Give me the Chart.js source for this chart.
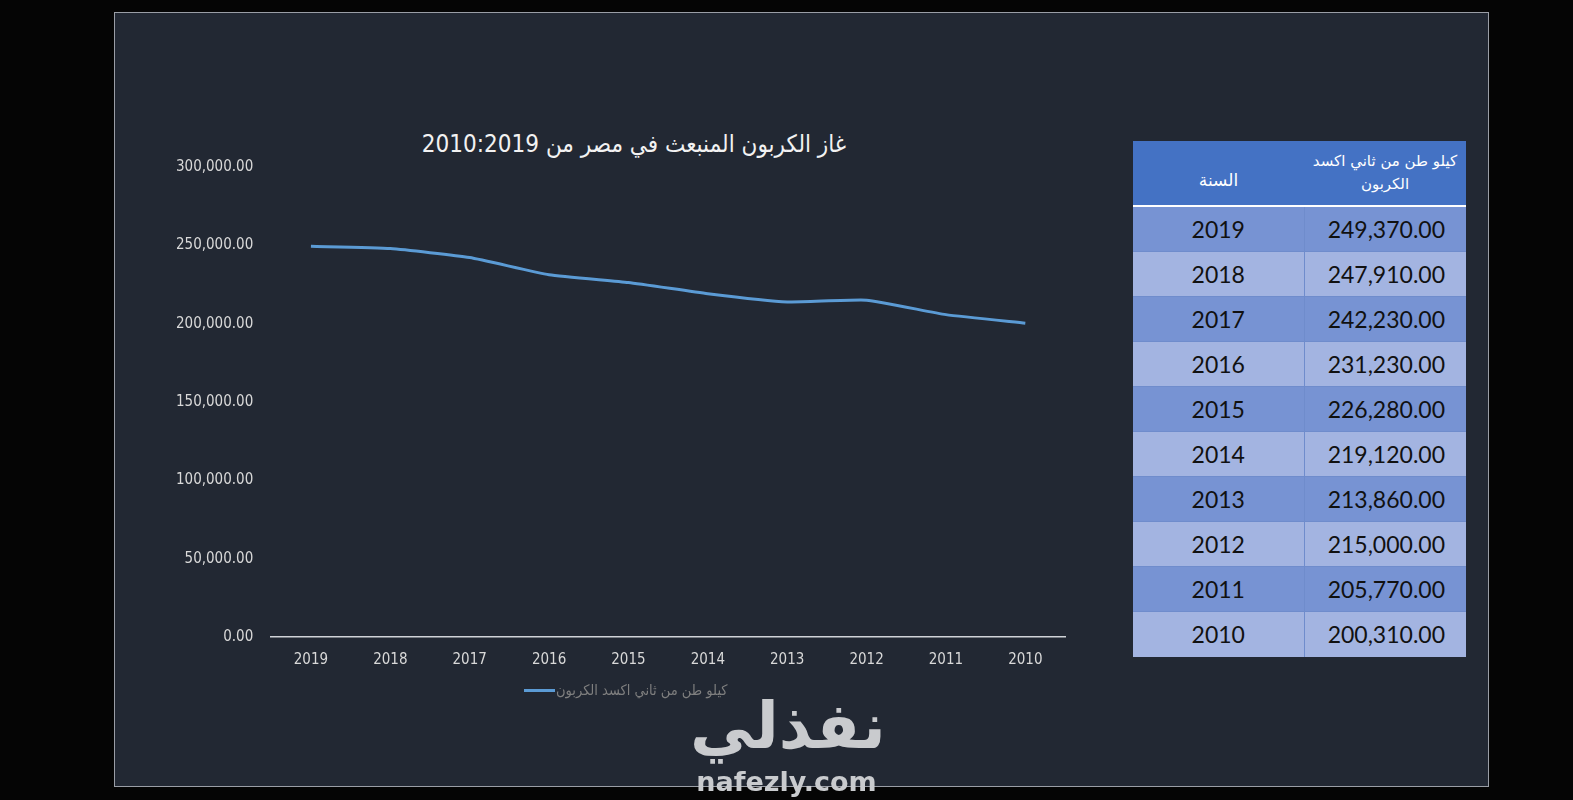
<!DOCTYPE html>
<html lang="ar">
<head>
<meta charset="utf-8">
<script src="https://cdn.jsdelivr.net/npm/chart.js@4.4.1/dist/chart.umd.min.js"></script>
<style>
  html, body { margin: 0; padding: 0; background: #050505; width: 1573px; height: 800px; overflow: hidden; }
  #panel {
    position: absolute; left: 114px; top: 12px; width: 1373px; height: 773px;
    background: #222833; border: 1px solid #9a9ea6;
  }
  #chartTitle {
    position: absolute; left: 634px; top: 129px; transform: translateX(-50%);
    white-space: nowrap; color: #f2f2f2; font-family: "DejaVu Sans Condensed", sans-serif; font-size: 24px; line-height: 30px;
  }
  #chartBox { position: absolute; left: 150px; top: 120px; width: 960px; height: 583px; }
  #legendBox {
    position: absolute; left: 524px; top: 680px; height: 20px; display: flex; align-items: center;
    white-space: nowrap; color: #7f7f7f; font-family: "DejaVu Sans Condensed", sans-serif; font-size: 14.5px;
  }
  #legendBox .swatch { display: inline-block; width: 31px; height: 3px; background: #5b9bd5; margin-right: 1px; }
  #dataTable {
    position: absolute; left: 1133px; top: 141px; width: 333px;
    border-collapse: collapse; font-family: Lato, "Open Sans", sans-serif; color: #111;
  }
  #dataTable th {
    background: #4472c4; color: #fff; font-weight: normal; height: 65px; padding: 0 4px;
    font-family: "DejaVu Sans", sans-serif; font-size: 15px; line-height: 23px; white-space: nowrap;
    border-bottom: 2px solid #ffffff; box-sizing: border-box;
  }
  #dataTable th.yh { padding-top: 14px; font-size: 17px; }
  #dataTable td { height: 45px; padding: 0; font-size: 23px; line-height: 44px; border-top: 1px solid #6f8ccc; box-sizing: border-box; }
  #dataTable td.year { text-align: center; width: 171px; border-right: 1px solid #6f8ccc; }
  #dataTable td.val { text-align: right; padding-right: 21px; }
  #dataTable tr.odd td { background: #7793d3; }
  #dataTable tr.even td { background: #a3b4e1; }
  #wm1 { position: absolute; left: 690px; top: 686px; width: 195px; text-align: center;
    font-family: "DejaVu Sans", sans-serif; font-weight: bold; font-size: 64px; color: #c9cbce; line-height: 80px; }
  #wm2 { position: absolute; left: 695px; top: 765px; width: 183px; text-align: center;
    font-family: "DejaVu Sans", sans-serif; font-weight: bold; font-size: 27px; color: #c9cbce; line-height: 34px; }
</style>
</head>
<body>
<div id="panel"></div>
<div id="chartTitle"></div>
<div id="chartBox"><canvas id="co2Chart"></canvas></div>
<div id="legendBox"><span class="swatch"></span><span id="legendText"></span></div>
<table id="dataTable">
  <thead><tr><th class="yh">السنة</th><th>كيلو طن من ثاني اكسد<br>الكربون</th></tr></thead>
  <tbody id="tableBody"></tbody>
</table>
<div id="wm1">نفذلي</div>
<div id="wm2">nafezly.com</div>
<script>
// years (as shown, newest first) and emissions in kilotons of CO2
const years = ['2019', '2018', '2017', '2016', '2015', '2014', '2013', '2012', '2011', '2010'];
const emissions = [249370, 247910, 242230, 231230, 226280, 219120, 213860, 215000, 205770, 200310];
const seriesLabel = 'كيلو طن من ثاني اكسد الكربون';
const chartTitle = 'غاز  الكربون المنبعث في مصر  من 2010:2019';

function fmt(v) {
  return v.toLocaleString('en-US', { minimumFractionDigits: 2, maximumFractionDigits: 2 });
}

document.getElementById('chartTitle').textContent = chartTitle;
document.getElementById('legendText').textContent = seriesLabel;

// fill the side table from the same arrays
const tbody = document.getElementById('tableBody');
years.forEach((y, i) => {
  const tr = document.createElement('tr');
  tr.className = i % 2 === 0 ? 'odd' : 'even';
  tr.innerHTML = '<td class="year">' + y + '</td><td class="val">' + fmt(emissions[i]) + '</td>';
  tbody.appendChild(tr);
});

const narrow = '"DejaVu Sans Condensed", sans-serif';

new Chart(document.getElementById('co2Chart'), {
  type: 'line',
  data: {
    labels: years,
    datasets: [{
      label: seriesLabel,
      data: emissions,
      borderColor: '#5b9bd5',
      backgroundColor: '#5b9bd5',
      borderWidth: 3,
      pointRadius: 0,
      tension: 0.15
    }]
  },
  options: {
    responsive: true,
    maintainAspectRatio: false,
    animation: false,
    layout: { padding: { left: 8, right: 45, top: 47, bottom: 20 } },
    scales: {
      x: {
        offset: true,
        grid: { display: false, drawTicks: false },
        border: { display: true, color: '#d0d3d8', width: 1.5 },
        ticks: { color: '#d9d9d9', font: { family: narrow, size: 15 }, padding: 14 }
      },
      y: {
        min: 0,
        max: 300000,
        grid: { display: false, drawTicks: false },
        border: { display: false },
        ticks: {
          stepSize: 50000,
          color: '#d9d9d9',
          padding: 18,
          font: { family: narrow, size: 15 },
          callback: function(value) { return fmt(value); }
        }
      }
    },
    plugins: {
      legend: { display: false },
      tooltip: { enabled: false }
    }
  }
});
</script>
</body>
</html>
